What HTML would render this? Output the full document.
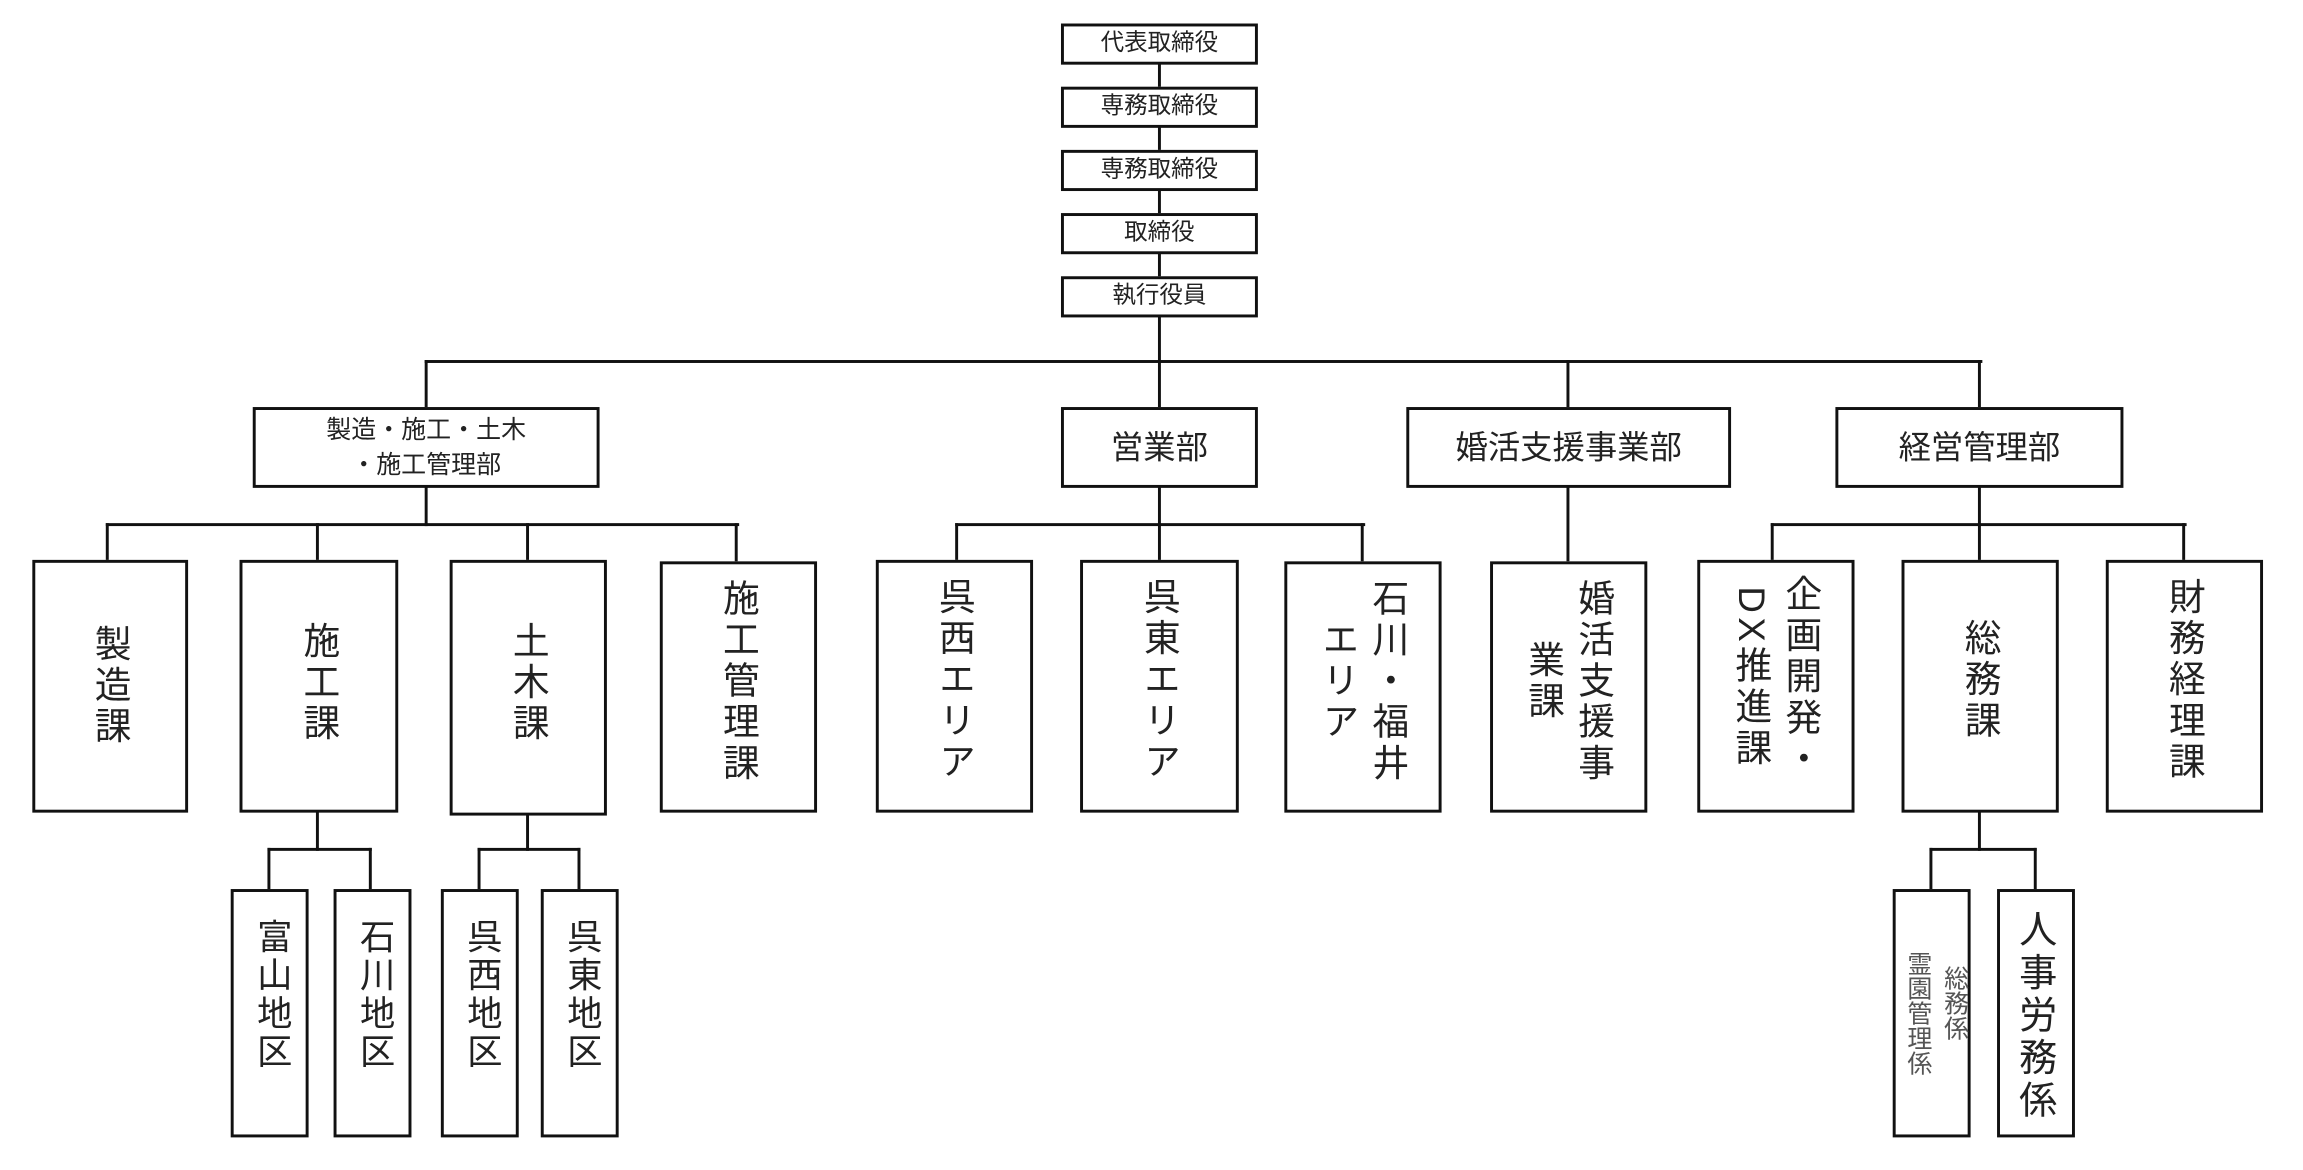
<!DOCTYPE html>
<html><head><meta charset="utf-8"><style>
html,body{margin:0;padding:0;background:#fff;width:2303px;height:1169px;overflow:hidden}
#s{position:absolute;left:0;top:0;width:1568px;height:796px;transform:scale(1.4695);transform-origin:0 0;font-family:"Liberation Sans","Noto Sans CJK JP",sans-serif;color:#222}
.b{position:absolute;border:2px solid #111;box-sizing:border-box;background:#fff;display:flex;justify-content:center;align-items:center;text-align:center}
.h{position:absolute;background:#111;height:2px}
.v{position:absolute;background:#111;width:2px}
.t{font-size:16px;line-height:1}
.d{font-size:22px;line-height:1}
.vt{writing-mode:vertical-rl;font-size:25px;line-height:34px;letter-spacing:3px;white-space:pre}
.vs{writing-mode:vertical-rl;font-size:24px;line-height:28px;letter-spacing:2px;white-space:pre}
</style></head><body><div id="s">
<div class="b t" style="left:722px;top:16px;width:134px;height:28px">代表取締役</div>
<div class="b t" style="left:722px;top:59px;width:134px;height:28px">専務取締役</div>
<div class="b t" style="left:722px;top:102px;width:134px;height:28px">専務取締役</div>
<div class="b t" style="left:722px;top:145px;width:134px;height:28px">取締役</div>
<div class="b t" style="left:722px;top:188px;width:134px;height:28px">執行役員</div>
<div class="v" style="left:788px;top:43px;height:16px"></div>
<div class="v" style="left:788px;top:86px;height:16px"></div>
<div class="v" style="left:788px;top:129px;height:16px"></div>
<div class="v" style="left:788px;top:172px;height:16px"></div>
<div class="v" style="left:788px;top:215px;height:32px"></div>
<div class="h" style="left:289px;top:245px;width:1060px"></div>
<div class="v" style="left:289px;top:245px;height:32px"></div>
<div class="v" style="left:788px;top:245px;height:32px"></div>
<div class="v" style="left:1066px;top:245px;height:32px"></div>
<div class="v" style="left:1346px;top:245px;height:32px"></div>
<div class="b" style="left:172px;top:277px;width:236px;height:55px;font-size:17px;line-height:24px">製造・施工・土木<br>・施工管理部</div>
<div class="b d" style="left:722px;top:277px;width:134px;height:55px">営業部</div>
<div class="b d" style="left:957px;top:277px;width:221px;height:55px">婚活支援事業部</div>
<div class="b d" style="left:1249px;top:277px;width:196px;height:55px">経営管理部</div>
<div class="v" style="left:289px;top:331px;height:27px"></div>
<div class="h" style="left:72px;top:356px;width:431px"></div>
<div class="v" style="left:72px;top:356px;height:26px"></div>
<div class="v" style="left:215px;top:356px;height:26px"></div>
<div class="v" style="left:358px;top:356px;height:26px"></div>
<div class="v" style="left:500px;top:356px;height:26px"></div>
<div class="v" style="left:788px;top:331px;height:27px"></div>
<div class="h" style="left:650px;top:356px;width:279px"></div>
<div class="v" style="left:650px;top:356px;height:26px"></div>
<div class="v" style="left:926px;top:356px;height:26px"></div>
<div class="v" style="left:788px;top:356px;height:26px"></div>
<div class="v" style="left:1066px;top:331px;height:51px"></div>
<div class="v" style="left:1346px;top:331px;height:27px"></div>
<div class="h" style="left:1205px;top:356px;width:283px"></div>
<div class="v" style="left:1205px;top:356px;height:26px"></div>
<div class="v" style="left:1346px;top:356px;height:26px"></div>
<div class="v" style="left:1485px;top:356px;height:26px"></div>
<div class="b" style="left:22px;top:381px;width:106px;height:172px"><span class="vt">製造課</span></div>
<div class="b" style="left:163px;top:381px;width:108px;height:172px;align-items:flex-start;padding-top:40px"><span class="vt">施工課</span></div>
<div class="b" style="left:306px;top:381px;width:107px;height:174px;align-items:flex-start;padding-top:40px"><span class="vt">土木課</span></div>
<div class="b" style="left:449px;top:382px;width:107px;height:171px;align-items:flex-start;padding-top:10px"><span class="vt">施工管理課</span></div>
<div class="b" style="left:596px;top:381px;width:107px;height:172px;align-items:flex-start;padding-top:10px"><span class="vt">呉西エリア</span></div>
<div class="b" style="left:735px;top:381px;width:108px;height:172px;align-items:flex-start;padding-top:10px"><span class="vt">呉東エリア</span></div>
<div class="b" style="left:874px;top:382px;width:107px;height:171px;align-items:flex-start;padding-top:10px"><span class="vt">石川・福井
エリア</span></div>
<div class="b" style="left:1014px;top:382px;width:107px;height:171px;align-items:flex-start;padding-top:10px"><span class="vt">婚活支援事
業課</span></div>
<div class="b" style="left:1155px;top:381px;width:107px;height:172px;align-items:flex-start;padding-top:8px"><span class="vt">企画開発・
DX推進課</span></div>
<div class="b" style="left:1294px;top:381px;width:107px;height:172px;align-items:flex-start;padding-top:38px"><span class="vt">総務課</span></div>
<div class="b" style="left:1433px;top:381px;width:107px;height:172px;align-items:flex-start;padding-top:10px"><span class="vt">財務経理課</span></div>
<div class="v" style="left:215px;top:552px;height:27px"></div>
<div class="h" style="left:182px;top:577px;width:71px"></div>
<div class="v" style="left:182px;top:577px;height:28px"></div>
<div class="v" style="left:251px;top:577px;height:28px"></div>
<div class="v" style="left:358px;top:554px;height:25px"></div>
<div class="h" style="left:325px;top:577px;width:70px"></div>
<div class="v" style="left:325px;top:577px;height:28px"></div>
<div class="v" style="left:393px;top:577px;height:28px"></div>
<div class="v" style="left:1346px;top:552px;height:27px"></div>
<div class="h" style="left:1313px;top:577px;width:73px"></div>
<div class="v" style="left:1313px;top:577px;height:28px"></div>
<div class="v" style="left:1384px;top:577px;height:28px"></div>
<div class="b" style="left:157px;top:605px;width:53px;height:169px;align-items:flex-start;padding-top:18px"><span class="vs">富山地区</span></div>
<div class="b" style="left:227px;top:605px;width:53px;height:169px;align-items:flex-start;padding-top:18px"><span class="vs">石川地区</span></div>
<div class="b" style="left:300px;top:605px;width:53px;height:169px;align-items:flex-start;padding-top:18px"><span class="vs">呉西地区</span></div>
<div class="b" style="left:368px;top:605px;width:53px;height:169px;align-items:flex-start;padding-top:18px"><span class="vs">呉東地区</span></div>
<div class="b" style="left:1288px;top:605px;width:53px;height:169px;display:block">
  <span style="position:absolute;left:5px;top:40px;writing-mode:vertical-rl;font-size:17px;line-height:18px;color:#555">霊園管理係</span>
  <span style="position:absolute;left:30px;top:50px;writing-mode:vertical-rl;font-size:17px;line-height:18px;color:#555">総務係</span>
</div>
<div class="b" style="left:1359px;top:605px;width:53px;height:169px;align-items:flex-start;padding-top:12px"><span class="vs" style="font-size:26px;letter-spacing:3px">人事労務係</span></div>
</div></body></html>
